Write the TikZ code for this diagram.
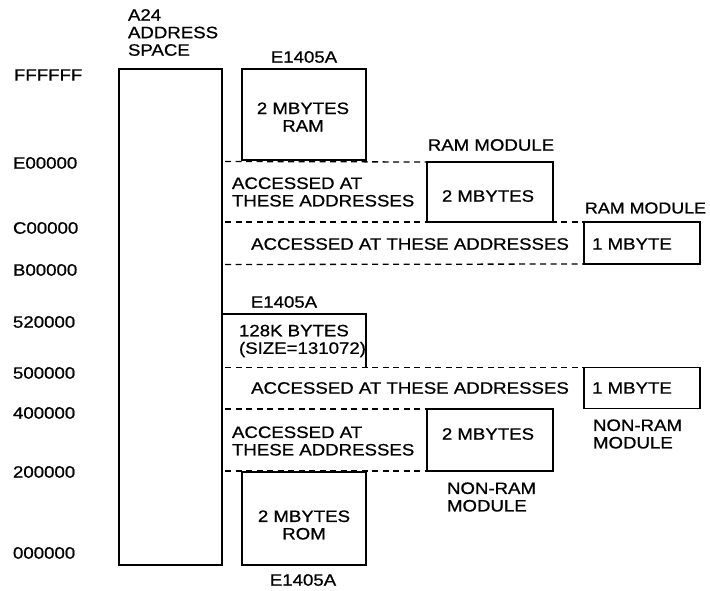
\documentclass[tikz,border=0pt]{standalone}
\usepackage{fontspec}
\setmainfont{Liberation Sans}[FakeStretch=1.13,FakeBold=0.8]
\begin{document}
\begin{tikzpicture}[x=1pt,y=-1pt,
  every node/.style={font=\fontsize{16.5}{17.5}\selectfont, inner sep=0pt, outer sep=0pt},
  box/.style={draw, line width=1.4pt, anchor=north west},
  dashline/.style={line width=1.3pt, dash pattern=on 6pt off 4.5pt},
  solidline/.style={line width=1.4pt},
  lbl/.style={anchor=west, align=left},
  ctr/.style={anchor=center, align=center}]
\useasboundingbox (0,0) rectangle (710,590);

% address space
\node[box, minimum width=103pt, minimum height=496pt] (as) at (119,69) {};
\node[lbl] (astitle) at (128,32.5) {A24\\ADDRESS\\SPACE};

% address labels
\node[lbl] (aF) at (14,75) {FFFFFF};
\node[lbl] (aE) at (13,163) {E00000};
\node[lbl] (aC) at (13,228) {C00000};
\node[lbl] (aB) at (13,270) {B00000};
\node[lbl] (a52) at (13,322) {520000};
\node[lbl] (a50) at (13,373) {500000};
\node[lbl] (a40) at (13,413) {400000};
\node[lbl] (a20) at (13,472) {200000};
\node[lbl] (a00) at (13,553) {000000};

% dashed lines
\coordinate (d1) at (225,161.5);
\coordinate (d2) at (225,222);
\coordinate (d3) at (225,264.5);
\coordinate (d4) at (225,367.5);
\coordinate (d5) at (225,409);
\coordinate (d6) at (225,471);

% top E1405A RAM
\node[box, minimum width=124pt, minimum height=91pt] (ramtop) at (242,69) {};
\node[ctr] (ramtoplbl) at (304,57) {E1405A};
\node[ctr] (ramtoptxt) at (303,117) {2 MBYTES\\RAM};

% RAM module 2 MBYTES
\node[box, minimum width=126pt, minimum height=60pt] (ram2) at (427,162) {};
\node[ctr] (ram2lbl) at (491,145) {RAM MODULE};
\node[ctr] (ram2txt) at (488,196) {2 MBYTES};
\node[lbl] (acc1) at (232,192) {ACCESSED AT\\THESE ADDRESSES};
\draw[dashline] (d1) -- (ram2.north west);

% RAM module 1 MBYTE
\node[box, minimum width=116pt, minimum height=42pt] (ram1) at (584,222) {};
\node[anchor=east, font=\fontsize{15.8}{17}\selectfont] (ram1lbl) at (706,208) {RAM MODULE};
\node[ctr] (ram1txt) at (632,244) {1 MBYTE};
\node[ctr] (acc2) at (410,244) {ACCESSED AT THESE ADDRESSES};
\draw[dashline] (d2) -- (ram1.north west);
\draw[dashline] (d3) -- (ram1.south west);

% 128K E1405A
\node[anchor=north west, minimum width=144pt, minimum height=53pt] (k128) at (222,314) {};
\draw[solidline] (k128.north west) -- (k128.north east) -- (k128.south east);
\node[ctr] (k128lbl) at (284,302) {E1405A};
\node[lbl] (k128txt) at (239,341) {128K BYTES\\(SIZE=131072)};

% non-RAM 1 MBYTE
\node[box, minimum width=116pt, minimum height=41pt] (nr1) at (584,367.5) {};
\node[ctr] (nr1txt) at (632,388) {1 MBYTE};
\node[lbl] (nr1lbl) at (593,434) {NON-RAM\\MODULE};
\node[ctr] (acc3) at (410,388) {ACCESSED AT THESE ADDRESSES};
\draw[dashline] (d4) -- (nr1.north west);

% non-RAM 2 MBYTES
\node[box, minimum width=126pt, minimum height=62pt] (nr2) at (427,409) {};
\node[ctr] (nr2txt) at (488,434) {2 MBYTES};
\node[lbl] (nr2lbl) at (447,497) {NON-RAM\\MODULE};
\node[lbl] (acc4) at (232,441) {ACCESSED AT\\THESE ADDRESSES};
\draw[dashline] (d5) -- (nr2.north west);
\draw[dashline] (d6) -- (nr2.south west);

% bottom E1405A ROM
\node[box, minimum width=124pt, minimum height=93pt] (rom) at (242,472) {};
\node[ctr] (romtxt) at (304,525) {2 MBYTES\\ROM};
\node[ctr] (romlbl) at (303,580) {E1405A};
\end{tikzpicture}
\end{document}
